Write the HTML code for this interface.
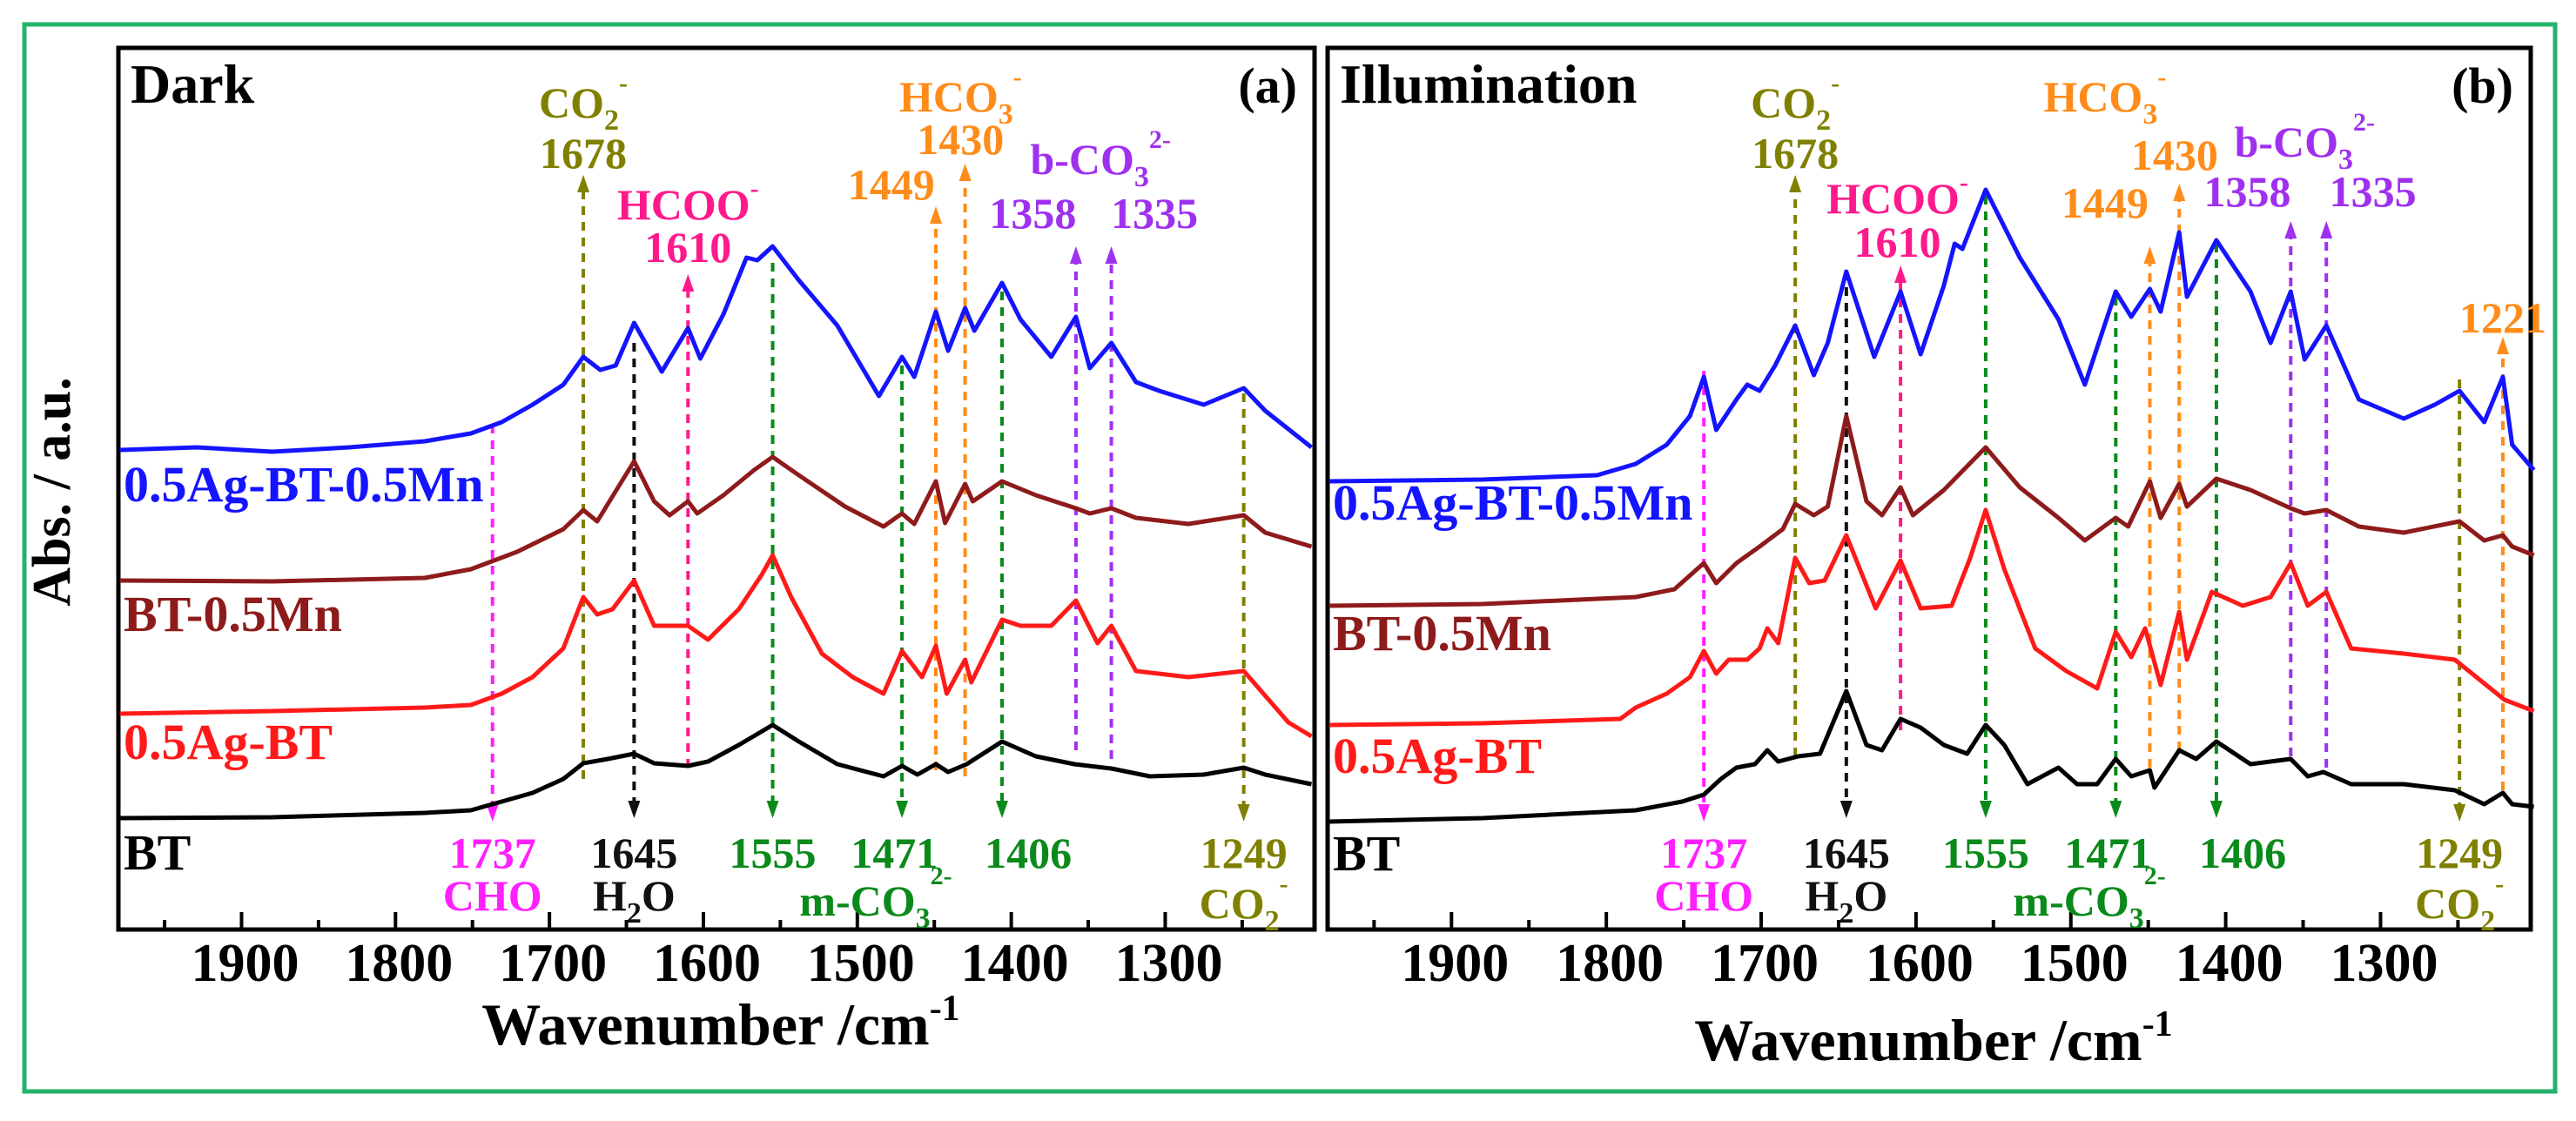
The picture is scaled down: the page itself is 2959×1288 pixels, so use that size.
<!DOCTYPE html>
<html><head><meta charset="utf-8"><style>
html,body{margin:0;padding:0;background:#fff;}
svg{display:block;font-family:"Liberation Serif",serif;font-weight:bold;}
</style></head><body>
<svg id="fig" width="2959" height="1288" viewBox="0 0 2959 1288" xmlns="http://www.w3.org/2000/svg">
<rect x="28" y="28" width="2907" height="1226" fill="none" stroke="#22b36b" stroke-width="5"/>
<text transform="translate(80,565) rotate(-90)" text-anchor="middle" font-size="62">Abs. / a.u.</text>
<g id="pa"></g>
<g id="pb"></g>
</svg>
<script>
// axis domain
const wnDomain = [1980, 1203];
const aDomain = [0, 1.013];
const tickLabels = [1900, 1800, 1700, 1600, 1500, 1400, 1300];
const minorTicks = [1950, 1850, 1750, 1650, 1550, 1450, 1350, 1250];

// ---- Panel (a) Dark ----
const aBlueWn = [1979,1929,1880,1830,1781,1751,1731,1711,1691,1678,1667,1657,1645,1627,1610,1602,1587,1572,1565,1555,1538,1513,1486,1471,1463,1449,1441,1430,1424,1406,1394,1374,1358,1349,1335,1319,1304,1275,1249,1235,1205];
const aBlueA  = [.551,.554,.549,.554,.561,.570,.583,.603,.626,.658,.643,.648,.697,.641,.691,.656,.707,.772,.769,.785,.746,.694,.613,.658,.635,.710,.665,.714,.688,.743,.701,.658,.704,.645,.674,.629,.619,.603,.622,.596,.554];
const aBrownWn = [1979,1880,1781,1751,1721,1691,1678,1669,1645,1632,1622,1610,1604,1587,1567,1555,1538,1508,1483,1471,1463,1449,1443,1430,1425,1406,1384,1358,1349,1335,1319,1285,1249,1235,1205];
const aBrownA  = [.401,.400,.404,.414,.434,.460,.482,.469,.538,.492,.476,.492,.478,.499,.528,.543,.522,.486,.463,.478,.466,.515,.467,.512,.492,.515,.499,.484,.478,.484,.473,.466,.476,.456,.440];
const aRedWn = [1979,1880,1781,1751,1731,1711,1691,1678,1669,1659,1645,1632,1610,1597,1577,1562,1555,1543,1523,1503,1483,1471,1458,1449,1442,1430,1426,1406,1394,1374,1358,1344,1335,1319,1285,1249,1220,1205];
const aRedA  = [.248,.251,.255,.258,.271,.290,.323,.382,.362,.368,.401,.349,.349,.333,.368,.408,.430,.382,.317,.290,.271,.320,.290,.326,.271,.310,.284,.356,.349,.349,.378,.329,.349,.297,.290,.297,.238,.222];
const aBlackWn = [1979,1880,1781,1751,1731,1711,1691,1678,1662,1645,1632,1610,1597,1577,1555,1538,1513,1483,1471,1461,1449,1441,1429,1406,1384,1359,1335,1310,1275,1249,1235,1205];
const aBlackA  = [.128,.129,.134,.137,.147,.157,.173,.191,.196,.202,.191,.188,.193,.212,.235,.216,.190,.176,.188,.178,.190,.181,.190,.216,.199,.190,.185,.176,.178,.186,.178,.167];

// ---- Panel (b) Illumination ----
const bBlueWn = [1979,1880,1806,1781,1761,1746,1737,1729,1716,1709,1701,1691,1678,1666,1657,1645,1627,1610,1597,1582,1575,1570,1555,1533,1508,1491,1471,1461,1449,1442,1430,1425,1406,1384,1371,1358,1349,1335,1314,1285,1265,1249,1233,1221,1215,1201];
const bBlueA  = [.515,.517,.522,.535,.557,.590,.635,.574,.609,.626,.619,.648,.694,.637,.674,.756,.658,.733,.661,.740,.788,.782,.850,.772,.701,.626,.733,.704,.736,.710,.801,.727,.792,.733,.674,.733,.655,.694,.609,.587,.603,.619,.583,.635,.557,.528];
const bBrownWn = [1979,1880,1781,1756,1737,1729,1716,1701,1686,1678,1666,1657,1645,1632,1622,1610,1602,1582,1555,1533,1508,1491,1471,1463,1449,1442,1430,1425,1406,1384,1358,1349,1335,1314,1285,1249,1233,1221,1215,1201];
const bBrownA  = [.372,.374,.382,.391,.421,.398,.421,.440,.460,.489,.476,.486,.590,.492,.476,.508,.476,.505,.554,.508,.473,.447,.473,.463,.515,.473,.512,.486,.518,.505,.484,.478,.482,.463,.456,.469,.447,.453,.440,.430];
const bRedWn = [1979,1880,1791,1781,1761,1746,1737,1729,1721,1709,1701,1696,1689,1678,1669,1659,1645,1626,1610,1597,1577,1565,1555,1543,1523,1503,1483,1471,1461,1452,1442,1430,1425,1409,1389,1371,1358,1347,1335,1319,1285,1252,1220,1201];
const bRedA  = [.235,.237,.242,.255,.271,.290,.320,.294,.310,.310,.323,.346,.329,.427,.398,.401,.453,.369,.424,.369,.372,.427,.482,.414,.323,.297,.277,.342,.313,.346,.281,.365,.310,.388,.372,.382,.421,.372,.388,.323,.317,.310,.264,.251];
const bBlackWn = [1979,1880,1781,1751,1737,1726,1716,1704,1696,1689,1676,1662,1645,1632,1622,1610,1597,1582,1567,1555,1543,1528,1508,1496,1483,1471,1461,1449,1446,1430,1419,1406,1384,1358,1347,1337,1319,1285,1252,1233,1221,1215,1201];
const bBlackA  = [.124,.128,.137,.147,.155,.173,.186,.190,.206,.193,.199,.202,.274,.212,.206,.242,.232,.212,.202,.235,.212,.167,.186,.167,.167,.196,.176,.183,.163,.206,.196,.216,.190,.196,.176,.181,.167,.167,.160,.144,.157,.144,.141];

const COL = {blue:'#1414ff', brown:'#8e1b1b', red:'#ff1a1a', black:'#111', olive:'#808000', magenta:'#ff20ff', pink:'#ff1a8c', green:'#0a8a1a', orange:'#ff8c1a', purple:'#a030f0'};

// annotations: wn, color, yFrom (A), yTo (A, arrow head end)
const annWnA   = [1678,1737,1645,1610,1555,1471,1449,1430,1406,1358,1335,1249];
const annColA  = ['olive','magenta','black','pink','green','green','orange','orange','green','purple','purple','olive'];
const annFromA = [.173,.580,.674,.186,.766,.648,.183,.176,.733,.206,.196,.616];
const annToA   = [.867,.124,.128,.753,.128,.128,.831,.880,.128,.785,.785,.124];
const annWnB   = [1678,1737,1645,1610,1555,1471,1449,1430,1406,1358,1335,1249,1221];
const annColB  = ['olive','magenta','black','pink','green','green','orange','orange','green','purple','purple','olive','orange'];
const annFromB = [.199,.642,.756,.229,.843,.727,.186,.206,.788,.199,.186,.632,.160];
const annToB   = [.867,.124,.128,.763,.128,.128,.785,.857,.128,.814,.814,.124,.681];

const NS = 'http://www.w3.org/2000/svg';
function mk(tag, attrs, parent){ const e=document.createElementNS(NS,tag); for(const k in attrs) e.setAttribute(k,attrs[k]); parent.appendChild(e); return e; }

function buildPanel(g, x0, x1, cfg){
  const y0 = 55, y1 = 1068;
  const X = wn => x0 + (wnDomain[0]-wn)/(wnDomain[0]-wnDomain[1])*(x1-x0);
  const Y = a => y1 - (a-aDomain[0])/(aDomain[1]-aDomain[0])*(y1-y0);
  // frame
  const fr = mk('rect',{x:x0,y:y0,width:x1-x0,height:y1-y0,fill:'#fff',stroke:'#000','stroke-width':5},g);
  
  
  // ticks
  tickLabels.forEach(t=>{
    const l = mk('line',{x1:X(t),x2:X(t),y1:y1,y2:y1-20,stroke:'#000','stroke-width':4},g);
    
    
    const tx = mk('text',{x:X(t)+4,y:1127,'text-anchor':'middle','font-size':62},g);
    
    
    tx.textContent = t;
  });
  minorTicks.forEach(t=>{
    const l = mk('line',{x1:X(t),x2:X(t),y1:y1,y2:y1-11,stroke:'#000','stroke-width':4},g);
    
    
  });
  const xt = mk('text',{x:(x0+x1)/2+5,y:cfg.xTitleY,'text-anchor':'middle','font-size':68},g);
  
  
  xt.innerHTML = 'Wavenumber /cm<tspan dy="-28" font-size="42">-1</tspan>';
  // annotations
  cfg.annWn.forEach((w,i)=>{
    const c = COL[cfg.annCol[i]], xx = X(w), ya = Y(cfg.annFrom[i]), yb = Y(cfg.annTo[i]);
    const dir = yb > ya ? 1 : -1;
    const ln = mk('line',{x1:xx,x2:xx,y1:ya,y2:yb - dir*14,stroke:c,'stroke-width':4,'stroke-dasharray':'10 8'},g);
    
    
    const hd = mk('polygon',{points:`${xx-7},${yb-dir*20} ${xx+7},${yb-dir*20} ${xx},${yb}`,fill:c},g);
    
    
  });
  // series
  cfg.series.forEach(s=>{
    const d = s.wn.map((w,i)=>(i?'L':'M')+X(w).toFixed(1)+','+Y(s.a[i]).toFixed(1)).join(' ');
    const p = mk('path',{d:d,fill:'none',stroke:s.color,'stroke-width':5,'stroke-linejoin':'round'},g);
    
    
    const t = mk('text',{x:x0+6,y:s.labelY,'font-size':58,fill:s.color},g);
    
    
    t.textContent = s.label;
  });
  // text labels
  cfg.labels.forEach(L=>{
    const t = mk('text',{x:X(L[0]),y:L[1],'text-anchor':'middle','font-size':50,fill:COL[L[2]]},g);
    
    
    t.innerHTML = L[3];
  });
  const ti = mk('text',{x:x0+14,y:118,'font-size':64},g);
  
  
  ti.textContent = cfg.title;
  const pl = mk('text',{x:x1-20,y:118,'text-anchor':'end','font-size':58},g);
  
  
  pl.textContent = cfg.letter;
}

const SUB = (s)=>`<tspan dy="14" font-size="34">${s}</tspan>`;
const SUP = (s,dy)=>`<tspan dy="${dy}" font-size="30">${s}</tspan>`;

const labelsA = [
 [1678,135,'olive','CO'+SUB('2')+SUP('-',-44)],
 [1678,193,'olive','1678'],
 [1610,252,'pink','HCOO'+SUP('-',-26)],
 [1610,301,'pink','1610'],
 [1433,128,'orange','HCO'+SUB('3')+SUP('-',-44)],
 [1433,177,'orange','1430'],
 [1478,229,'orange','1449'],
 [1342,200,'purple','b-CO'+SUB('3')+SUP('2-',-44)],
 [1386,262,'purple','1358'],
 [1307,262,'purple','1335'],
 [1737,997,'magenta','1737'],
 [1737,1046,'magenta','CHO'],
 [1645,997,'black','1645'],
 [1645,1046,'black','H'+SUB('2')+'<tspan dy="-14">O</tspan>'],
 [1555,997,'green','1555'],
 [1476,997,'green','1471'],
 [1389,997,'green','1406'],
 [1488,1052,'green','m-CO'+SUB('3')+SUP('2-',-50)],
 [1249,997,'olive','1249'],
 [1249,1055,'olive','CO'+SUB('2')+SUP('-',-44)]
];
const labelsB = [
 [1678,135,'olive','CO'+SUB('2')+SUP('-',-44)],
 [1678,193,'olive','1678'],
 [1612,245,'pink','HCOO'+SUP('-',-26)],
 [1612,295,'pink','1610'],
 [1478,128,'orange','HCO'+SUB('3')+SUP('-',-44)],
 [1433,195,'orange','1430'],
 [1478,250,'orange','1449'],
 [1349,180,'purple','b-CO'+SUB('3')+SUP('2-',-44)],
 [1386,237,'purple','1358'],
 [1305,237,'purple','1335'],
 [1221,382,'orange','1221'],
 [1737,997,'magenta','1737'],
 [1737,1046,'magenta','CHO'],
 [1645,997,'black','1645'],
 [1645,1046,'black','H'+SUB('2')+'<tspan dy="-14">O</tspan>'],
 [1555,997,'green','1555'],
 [1476,997,'green','1471'],
 [1389,997,'green','1406'],
 [1488,1052,'green','m-CO'+SUB('3')+SUP('2-',-50)],
 [1249,997,'olive','1249'],
 [1249,1055,'olive','CO'+SUB('2')+SUP('-',-44)]
];

buildPanel(document.getElementById('pa'), 136, 1510, {
  title:'Dark', letter:'(a)', xTitleY:1200,
  annWn:annWnA, annCol:annColA, annFrom:annFromA, annTo:annToA, labels:labelsA,
  series:[
    {name:'0.5ag-bt-0.5mn', label:'0.5Ag-BT-0.5Mn', color:COL.blue, wn:aBlueWn, a:aBlueA, labelY:576},
    {name:'bt-0.5mn', label:'BT-0.5Mn', color:COL.brown, wn:aBrownWn, a:aBrownA, labelY:725},
    {name:'0.5ag-bt', label:'0.5Ag-BT', color:COL.red, wn:aRedWn, a:aRedA, labelY:872},
    {name:'bt', label:'BT', color:'#000', wn:aBlackWn, a:aBlackA, labelY:999}
  ]});
buildPanel(document.getElementById('pb'), 1525, 2907, {
  title:'Illumination', letter:'(b)', xTitleY:1218,
  annWn:annWnB, annCol:annColB, annFrom:annFromB, annTo:annToB, labels:labelsB,
  series:[
    {name:'0.5ag-bt-0.5mn', label:'0.5Ag-BT-0.5Mn', color:COL.blue, wn:bBlueWn, a:bBlueA, labelY:597},
    {name:'bt-0.5mn', label:'BT-0.5Mn', color:COL.brown, wn:bBrownWn, a:bBrownA, labelY:747},
    {name:'0.5ag-bt', label:'0.5Ag-BT', color:COL.red, wn:bRedWn, a:bRedA, labelY:888},
    {name:'bt', label:'BT', color:'#000', wn:bBlackWn, a:bBlackA, labelY:1000}
  ]});
</script>
</body></html>
